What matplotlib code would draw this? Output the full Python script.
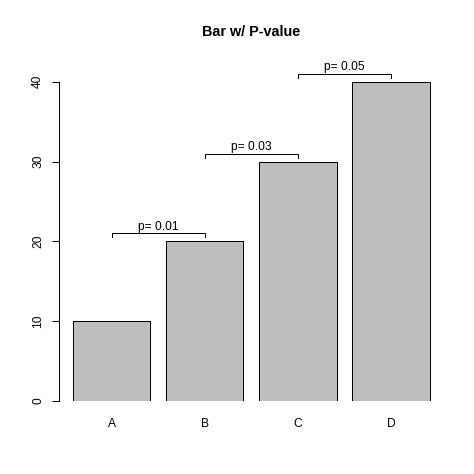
import numpy as np
import matplotlib
matplotlib.use('Agg')
import matplotlib.pyplot as plt

plt.rcParams['font.family'] = ['Liberation Sans', 'DejaVu Sans']

# data
categories = ['A', 'B', 'C', 'D']
values = [10, 20, 30, 40]
p_labels = ['p= 0.01', 'p= 0.03', 'p= 0.05']
y_ticks = [0, 10, 20, 30, 40]

W, H = 474, 474
dpi = 100
fig = plt.figure(figsize=(W / dpi, H / dpi), dpi=dpi)
px = 72 / dpi  # points per pixel

# plot region like R default margins
left, right, top, bottom = 58.5, 444, 59, 400.7
ax = fig.add_axes([left / W, 1 - bottom / H, (right - left) / W, (bottom - top) / H])

# bar positions like R barplot (width 1, space 0.2)
x = 0.7 + 1.2 * np.arange(len(values))
ax.bar(x, values, width=1, color='#bebebe', edgecolor='black', linewidth=1 * px)

ax.set_xlim(0.016, 4.984)
ax.set_ylim(0, 42.86)

for s in ['top', 'right', 'bottom']:
    ax.spines[s].set_visible(False)
ax.spines['left'].set_bounds(0, 40)
ax.spines['left'].set_linewidth(1 * px)

ax.set_yticks(y_ticks)
ax.set_yticklabels([str(v) for v in y_ticks], rotation=90, va='center', fontsize=12 * px)
ax.tick_params(axis='y', length=7.5 * px, width=1 * px, pad=7 * px)

ax.set_xticks(x)
ax.set_xticklabels(categories, fontsize=12 * px)
ax.tick_params(axis='x', length=0, pad=17 * px)

# p-value brackets between neighbouring bars
for i, lab in enumerate(p_labels):
    yb = values[i + 1] + 1
    ax.plot([x[i], x[i], x[i + 1], x[i + 1]], [yb - 0.5, yb, yb, yb - 0.5],
            color='black', linewidth=1 * px, clip_on=False)
    ax.text((x[i] + x[i + 1]) / 2, yb + 0.8, lab, ha='center', va='center',
            fontsize=12 * px)

ax.set_title('Bar w/ P-value', fontsize=14.4 * px, fontweight='bold', pad=23 * px)

fig.savefig('out.png', dpi=dpi)
